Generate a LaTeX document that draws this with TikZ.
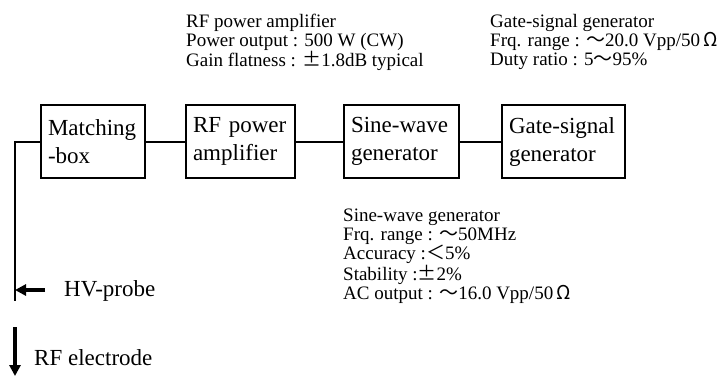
\documentclass[tikz,border=0pt]{standalone}
\usepackage{fontspec}
\setmainfont{Liberation Serif}
\newfontfamily\cjk{Noto Sans CJK JP}
\usetikzlibrary{arrows.meta}
\tikzset{
  rfblock/.style={draw,line width=2bp,align=left,minimum height=73bp,inner xsep=7bp,inner ysep=0pt,anchor=west,font=\fontsize{23bp}{28bp}\selectfont},
  rfspec/.style={align=left,anchor=north west,inner sep=0pt,font=\fontsize{19bp}{19bp}\selectfont},
  rflab/.style={anchor=west,inner sep=0pt,font=\fontsize{23bp}{28bp}\selectfont},
  rfwire/.style={line width=2bp},
  rfarr/.style={line width=3.2bp,-{Triangle[length=11bp,width=11bp]}},
}
\newcommand{\wdash}{{\cjk ～}}
\newcommand{\wless}{{\cjk ＜}}
\newcommand{\wpm}{{\cjk ±}}
\newcommand{\wohm}{{\cjk Ω}}

\begin{document}
\begin{tikzpicture}[x=1bp,y=-1bp]
\useasboundingbox (0,0) rectangle (726,376);
% ---- the chain of units
\node[rfblock,text width=90bp] (match) at (40,141.5) {Matching\\-box};
\node[rfblock,text width=95bp] (amp) at (185,141.5) {RF power\\amplifier};
\node[rfblock,text width=101bp] (sine) at (343,141.5) {Sine-wave\\generator};
\node[rfblock,text width=109bp] (gate) at (501,141.5) {Gate-signal\\generator};
\draw[rfwire] (match) -- (amp);
\draw[rfwire] (amp) -- (sine);
\draw[rfwire] (sine) -- (gate);
% ---- lead down to the electrode
\coordinate (probe) at (15,301);
\draw[rfwire] (match.west) -| (probe);
\coordinate (hvtail) at (45,290);
\coordinate (hvtip) at (15,290);
\draw[rfarr] (hvtail) -- (hvtip);
\node[rflab] (hv) at (64,291) {HV-probe};
\coordinate (etop) at (15,327);
\coordinate (ebot) at (15,376);
\draw[rfarr] (etop) -- (ebot);
\node[rflab] (elec) at (34,358) {RF electrode};
% ---- specifications
\node[rfspec] (ampspec) at (186,14) {RF power amplifier\\Power output : 500 W (CW)\\Gain flatness : \wpm1.8dB typical};
\node[rfspec] (gatespec) at (490,14) {Gate-signal generator\\Frq. range : \wdash20.0 Vpp/50\,\wohm\\Duty ratio : 5\wdash95\%};
\node[rfspec] (sinespec) at (343,209) {Sine-wave generator\\Frq. range : \wdash50MHz\\Accuracy :\wless5\%\\Stability :\wpm2\%\\AC output : \wdash16.0 Vpp/50\,\wohm};
\end{tikzpicture}
\end{document}
